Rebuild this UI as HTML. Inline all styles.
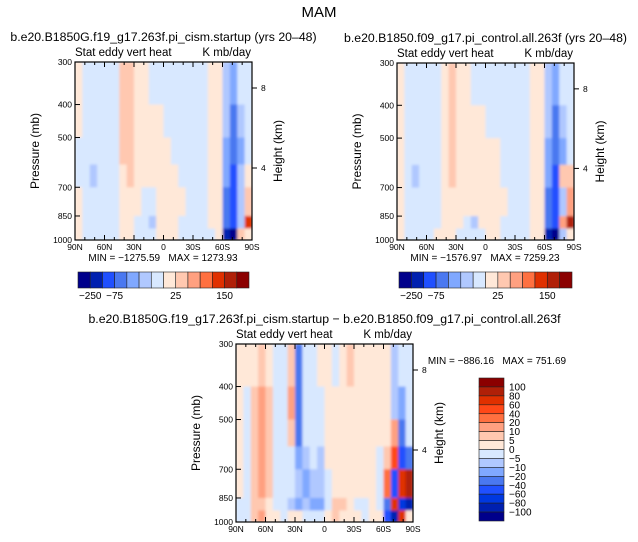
<!DOCTYPE html>
<html><head><meta charset="utf-8"><style>
html,body{margin:0;padding:0;background:#fff;}
svg{display:block;font-family:"Liberation Sans",sans-serif;}
text{white-space:pre;}
</style></head><body>
<svg id="fig" width="638" height="542" viewBox="0 0 638 542">
<defs><filter id="soft" x="-5%" y="-5%" width="110%" height="110%"><feGaussianBlur stdDeviation="1.4"/></filter></defs>
<text x="319" y="17" font-size="15" text-anchor="middle">MAM</text>
</svg>
<script>
const lats = [90,82.5,75,67.5,60,52.5,45,37.5,30,22.5,15,7.5,0,-7.5,-15,-22.5,-30,-37.5,-45,-52.5,-60,-67.5,-75,-82.5,-90];
const pres = [300,400,500,600,700,850,925,1000];
const topLevels = [-250,-200,-150,-100,-75,-50,0,25,50,75,100,150,200];
const topColors = ["#00008b","#0020b0","#2050ff","#4a78f0","#80a8ff","#b0c8ff","#d8e8ff","#ffe8d8","#ffc8b0","#ffa080","#ff7040","#e03000","#b02008","#8b0000"];
const diffLevels = [-100,-80,-60,-40,-20,-10,-5,0,5,10,20,40,60,80,100];
const diffColors = ["#00008b","#0020b0","#0038e0","#2050ff","#4a78f0","#80a8ff","#b0c8ff","#d8e8ff","#ffe8d8","#ffc8b0","#ffa080","#ff7040","#ff4818","#e03000","#b02008","#8b0000"];
const topTickLabels = ["-250","-75","25","150"];
const diffTickLabels = ["100","80","60","40","20","10","5","0","-5","-10","-20","-40","-60","-80","-100"];
const latLabels = ["90N","60N","30N","0","30S","60S","90S"];
const presLabels = [300,400,500,700,850,1000];
// columns 90N -> 90S, each with values from 300mb down to 1000mb
const panelA = [
[10,10,-20,-20,10,10,10],[-20,-20,-20,-20,-20,-20,-20],[-20,-20,-20,-60,-20,-20,-20],[-20,-20,-20,-20,-20,-20,-20],
[-20,-20,-20,-20,-20,-20,-20],[-20,-20,-20,-20,-20,-20,-20],[30,30,30,10,10,10,10],[30,30,30,30,10,10,10],
[10,10,10,10,10,-20,-20],[10,10,10,10,-20,-20,-20],[-20,10,10,10,-20,-60,-20],[-20,10,10,10,10,10,10],
[-20,-20,10,10,10,10,10],[-20,-20,-20,10,10,10,10],[-20,-20,-20,-20,10,-20,-20],[-20,-20,-20,-20,-20,-20,-20],
[-20,-20,-20,-20,-20,-20,-20],[-20,-20,-20,-20,-20,-20,-20],[10,10,10,10,10,10,-20],[10,10,10,10,10,10,10],
[-60,-75,-100,-100,-150,-150,-250],[-100,-150,-150,-160,-200,-200,-300],[-50,-75,-100,-75,-60,-75,30],[-20,-20,-20,10,30,100,10]];
const panelB = [
[10,10,10,10,10,10,10],[-20,-20,-20,-20,-20,-20,-20],[-20,-20,-20,-60,-20,-20,-20],[-20,-20,-20,-20,-20,-20,-20],
[-20,-20,-20,-20,-20,-20,-20],[-20,-20,-20,-20,-20,-20,10],[10,10,10,10,10,10,10],[40,40,40,30,10,10,10],
[10,10,10,10,10,10,-20],[10,10,10,10,10,-20,-20],[-20,10,10,10,10,-60,-20],[-20,10,10,10,10,10,-20],
[-20,-20,10,10,10,10,10],[-20,-20,10,10,10,10,10],[-20,-20,-20,-20,10,-20,-20],[-20,-20,-20,-20,-20,-20,-20],
[-20,-20,-20,-20,-20,-20,-20],[-20,-20,-20,-20,-20,-20,-20],[10,10,10,10,10,10,10],[10,10,10,10,10,10,10],
[-60,-75,-100,-100,-150,-150,-250],[-100,-150,-150,-160,-200,-200,-300],[-50,-75,-100,30,-75,60,-75],[-20,-20,-20,30,60,150,10]];
const panelC = [
[2,2,2,2,2,-3,-3],[2,-3,-3,-3,-3,-3,-3],[2,7,7,7,7,7,7],[7,12,12,12,12,7,12],
[2,7,7,7,7,2,2],[-3,-3,-3,-3,-3,-3,2],[-3,-3,-3,-3,-3,-3,-3],[7,12,7,-3,-3,-8,2],
[-30,-30,-30,-15,-8,-15,2],[-3,-3,-3,-8,-15,-8,-3],[-3,-3,-3,-3,-8,-15,-3],[2,-3,-3,-8,-8,-15,-3],
[2,2,2,2,-3,-3,2],[-3,2,2,2,2,7,7],[2,2,2,2,2,7,2],[7,2,2,2,2,2,2],
[2,2,2,2,2,-3,2],[2,2,2,2,2,-3,-3],[2,2,2,2,2,2,2],[2,2,2,-3,-3,-3,2],
[2,2,2,7,30,-30,-60],[-8,-8,12,40,-60,60,-100],[-3,-15,-30,-60,60,-80,60],[-3,-3,-3,-30,80,-100,2]];

const NS="http://www.w3.org/2000/svg";
const svg=document.getElementById('fig');
function mk(tag,attrs,parent){const e=document.createElementNS(NS,tag);for(const k in attrs)e.setAttribute(k,attrs[k]);(parent||svg).appendChild(e);return e;}
function txt(x,y,s,size,anchor,parent,rot){const t=mk('text',{x:x,y:y,'font-size':size,'text-anchor':anchor||'start'},parent);if(rot)t.setAttribute('transform','rotate(-90 '+x+' '+y+')');t.textContent=s;return t;}
function colorFor(v,levels,colors){let i=0;while(i<levels.length&&v>=levels[i])i++;return colors[i];}
let clipId=0;
function panel(name,ox,oy,w,h,data,levels,colors,title,mm,mmx,mmy){
  const g=mk('g',{});
  
  
  const xs=lat=>ox+(90-lat)/180*w;
  const ys=p=>oy+Math.log(p/300)/Math.log(1000/300)*h;
  const cid='clip'+(clipId++);
  const cp=mk('clipPath',{id:cid},svg.querySelector('defs'));
  mk('rect',{x:ox,y:oy,width:w,height:h},cp);
  const cg=mk('g',{'clip-path':'url(#'+cid+')'},g);
  const fg=mk('g',{filter:'url(#soft)'},cg);
  data.forEach((col,i)=>{col.forEach((v,j)=>{
    const r=mk('rect',{x:xs(lats[i]),y:ys(pres[j]),width:xs(lats[i+1])-xs(lats[i])+0.5,height:ys(pres[j+1])-ys(pres[j])+0.5,fill:colorFor(v,levels,colors)},fg);
    
    
  });});
  const fr=mk('rect',{x:ox,y:oy,width:w,height:h,fill:'none',stroke:'#000','stroke-width':1.2},g);
  
  
  for(let l=90;l>=-90;l-=10){const x=xs(l);const L=(l%30===0)?5:3;
    mk('line',{x1:x,y1:oy+h,x2:x,y2:oy+h-L,stroke:'#000'},g);mk('line',{x1:x,y1:oy,x2:x,y2:oy+L,stroke:'#000'},g);}
  latLabels.forEach((s,i)=>{const t=txt(ox+i*w/6,oy+h+10,s,8.5,'middle',g);});
  presLabels.forEach(p=>{const y=ys(p);mk('line',{x1:ox,y1:y,x2:ox+5,y2:y,stroke:'#000'},g);
    const t=txt(ox-3,y+3,String(p),8.5,'end',g);});
  [[8,26/178],[4,106/178]].forEach(([km,f])=>{const y=oy+f*h;mk('line',{x1:ox+w,y1:y,x2:ox+w+5,y2:y,stroke:'#000'},g);
    const t=txt(ox+w+9,y+3,String(km),8.5,'start',g);});
  let t=txt(ox-36,oy+h/2,'Pressure (mb)',12,'middle',g,true);
  t=txt(ox+w+30,oy+h/2,'Height (km)',12,'middle',g,true);
  t=txt(ox,oy-6,'Stat eddy vert heat',11.5,'start',g);
  t=txt(ox+w-1,oy-6,'K mb/day',11.5,'end',g);
  t=txt(ox+w/2,oy-21,title,12.3,'middle',g);
  t=txt(mmx,mmy,mm,10,'middle',g);
}
panel('panel-cism',75,62,177,178,panelA,topLevels,topColors,'b.e20.B1850G.f19_g17.263f.pi_cism.startup (yrs 20\u201348)','MIN = \u22121275.59   MAX = 1273.93',163,261);
panel('panel-control',397,63,177,177,panelB,topLevels,topColors,'b.e20.B1850.f09_g17.pi_control.all.263f (yrs 20\u201348)','MIN = \u22121576.97   MAX = 7259.23',485,261);
panel('panel-difference',236,344,177,178,panelC,diffLevels,diffColors,'b.e20.B1850G.f19_g17.263f.pi_cism.startup \u2212 b.e20.B1850.f09_g17.pi_control.all.263f','MIN = \u2212886.16   MAX = 751.69',497,364);

function hbar(name,x0,y0,w,h,colors,labels,labelPos){
  const g=mk('g',{});
  
  
  const bw=w/colors.length;
  colors.forEach((c,i)=>{const r=mk('rect',{x:x0+i*bw,y:y0,width:bw,height:h,fill:c,stroke:'#222','stroke-width':0.6},g);
    });
  labels.forEach((s,i)=>{const t=txt(x0+labelPos[i]*bw,y0+h+11,s.replace('-','\u2212'),10,'middle',g);
    });
}
hbar('colorbar-cism',78,272,171,16,topColors,topTickLabels,[1,3,8,12]);
hbar('colorbar-control',399,272,173,16,topColors,topTickLabels,[1,3,8,12]);
(function(){
  const g=mk('g',{});
  
  
  const x0=479,y0=378,w=25,h=143,bh=h/diffColors.length;
  diffColors.slice().reverse().forEach((c,i)=>{const r=mk('rect',{x:x0,y:y0+i*bh,width:w,height:bh,fill:c,stroke:'#222','stroke-width':0.6},g);
    });
  diffTickLabels.forEach((s,i)=>{const t=txt(x0+w+5,y0+(i+1)*bh+3.5,s.replace('-','\u2212'),10,'start',g);
    });
})();
</script>
</body></html>
